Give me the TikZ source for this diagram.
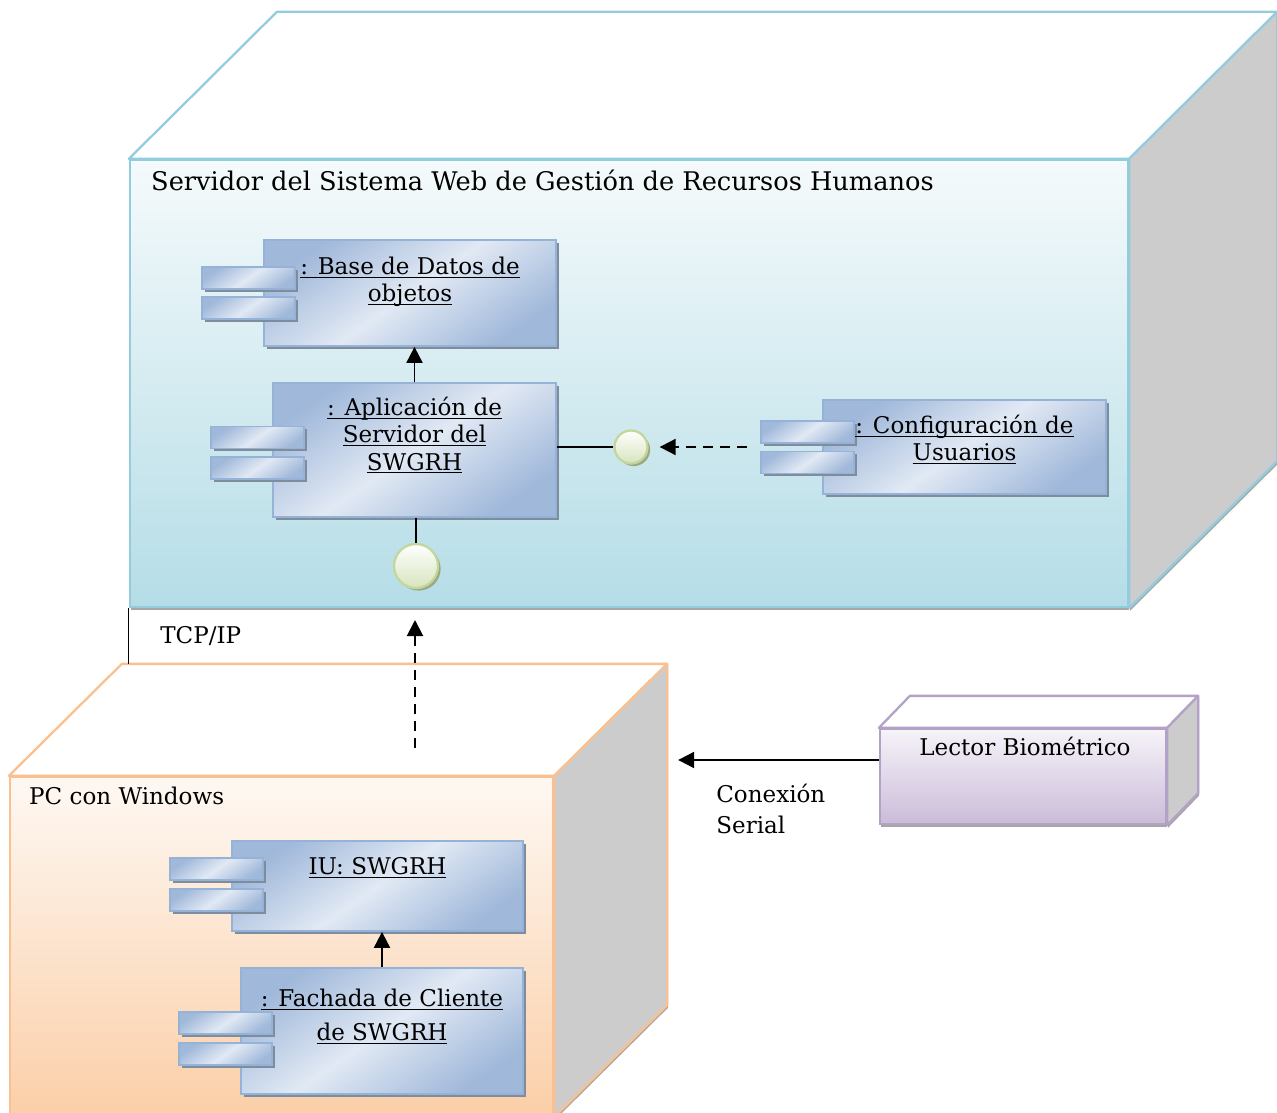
\documentclass[tikz,border=0pt]{standalone}
\usepackage{fontspec}
\setmainfont{DejaVu Serif}
\usetikzlibrary{arrows.meta,calc,positioning,shadows}

\definecolor{srvline}{HTML}{93CDDD}
\definecolor{srvtop}{HTML}{F5FAFB}
\definecolor{srvbot}{HTML}{B5DDE7}
\definecolor{pcline}{HTML}{FAC090}
\definecolor{pctop}{HTML}{FEF8F3}
\definecolor{pcbot}{HTML}{FBCFA8}
\definecolor{lecline}{HTML}{B3A2C7}
\definecolor{lectop}{HTML}{F6F3F9}
\definecolor{lecbot}{HTML}{CBBCD9}
\definecolor{sidegray}{HTML}{CCCCCC}
\definecolor{compline}{HTML}{95B3D7}
\definecolor{compdark}{HTML}{A0B8DA}
\definecolor{complight}{HTML}{E1E9F4}
\definecolor{compshadow}{HTML}{7F8C9E}
\definecolor{ifcline}{HTML}{C3D69B}
\definecolor{ifcbot}{HTML}{D7E4BD}
\definecolor{ifcshadow}{HTML}{9AAA80}

\newcommand{\deplfont}{\fontsize{13.1}{15.6}\selectfont}
\newcommand{\ulname}[1]{\underline{\smash{#1}}}

\tikzset{
    depl diagram/.style = {>={Triangle[length=3.2mm, width=3.2mm]}},
    line/.style     = {line width=1.1pt},
    dep/.style      = {line, dash pattern=on 2mm off 1.4mm},
    lbl/.style      = {font=\deplfont, inner sep=0pt},
    ulbl/.style     = {lbl, align=center, anchor=north},
    device/.style   = {line width=1.3pt, inner sep=0pt,
                       drop shadow={shadow xshift=0.5pt, shadow yshift=-1.5pt,
                                    fill=black, opacity=0.35}},
    srvbox/.style   = {device, draw=srvline, top color=srvtop, bottom color=srvbot},
    pcbox/.style    = {device, draw=pcline, top color=pctop, bottom color=pcbot},
    lecbox/.style   = {device, draw=lecline, top color=lectop, bottom color=lecbot},
    topface/.style  = {line width=1.3pt, fill=white, line join=round},
    sideface/.style = {line width=1.3pt, fill=sidegray, line join=round,
                       drop shadow={shadow xshift=0.5pt, shadow yshift=-1.5pt,
                                    fill=black, opacity=0.35}},
    comp/.style     = {draw=compline, line width=1pt, inner sep=0pt,
                       top color=compdark, bottom color=compdark,
                       middle color=complight, shading angle=35,
                       drop shadow={shadow xshift=1.6pt, shadow yshift=-1.6pt,
                                    fill=compshadow, opacity=1}},
    tab/.style      = {comp, minimum width=1.86cm, minimum height=0.44cm},
    lolly/.style    = {circle, draw=ifcline, line width=1.3pt, inner sep=0pt,
                       top color=white, bottom color=ifcbot,
                       drop shadow={shadow xshift=1.5pt, shadow yshift=-1.5pt,
                                    fill=ifcshadow, opacity=1}}
}

\begin{document}
\begin{tikzpicture}[depl diagram]
\useasboundingbox (0,0) rectangle (25.54,-22.26);

% ===== Nodes (front faces) =====
\node[srvbox, minimum width=19.96cm, minimum height=8.94cm] (srv) at (12.58,-7.67) {};
\node[pcbox, minimum width=10.86cm, minimum height=6.78cm] (pc) at (5.63,-18.93) {};
\node[lecbox, minimum width=5.72cm, minimum height=1.9cm] (lec) at (20.46,-15.53) {};

% ===== Depth faces =====
\foreach \n/\c/\dx/\dy in {srv/srvline/2.96/2.94, pc/pcline/2.26/2.24, lec/lecline/0.62/0.64} {
  \draw[topface, draw=\c] (\n.north west) -- ++(\dx,\dy)
    -- ($(\n.north east)+(\dx,\dy)$) -- (\n.north east) -- cycle;
  \draw[sideface, draw=\c] (\n.north east) -- ++(\dx,\dy)
    -- ($(\n.south east)+(\dx,\dy)$) -- (\n.south east) -- cycle;
}
\coordinate (pc-back-w) at ($(pc.north west)+(2.26,2.24)$);
\coordinate (pc-back-e) at ($(pc.north east)+(2.26,2.24)$);

% ===== Node titles =====
\node[lbl, anchor=base west, font=\fontsize{14.6}{17}\selectfont] (srv-title)
  at ([xshift=0.44cm, yshift=-0.64cm]srv.north west)
  {Servidor del Sistema Web de Gestión de Recursos Humanos};
\node[lbl, anchor=base west] (pc-title) at ([xshift=0.4cm, yshift=-0.58cm]pc.north west)
  {PC con Windows};
\node[lbl, anchor=base] (lec-title) at ([xshift=0.04cm, yshift=-0.56cm]lec.north)
  {Lector Biométrico};

% ===== Components =====
\node[comp, minimum width=5.84cm, minimum height=2.12cm] (bd)  at (8.2,-5.86)   {};
\node[comp, minimum width=5.66cm, minimum height=2.68cm] (app) at (8.29,-9.0)   {};
\node[comp, minimum width=5.66cm, minimum height=1.88cm] (cfg) at (19.29,-8.94) {};
\node[comp, minimum width=5.82cm, minimum height=1.8cm]  (ui)  at (7.55,-17.72) {};
\node[comp, minimum width=5.64cm, minimum height=2.52cm] (fac) at (7.64,-20.62) {};

\foreach \c/\ya/\yb in {bd/0.3/-0.3, app/0.25/-0.36, cfg/0.3/-0.31, ui/0.34/-0.28, fac/0.16/-0.46} {
  \node[tab] (\c-tab1) at ([xshift=-0.29cm, yshift=\ya cm]\c.west) {};
  \node[tab] (\c-tab2) at ([xshift=-0.29cm, yshift=\yb cm]\c.west) {};
}

\node[ulbl] (bd-lbl)  at ([yshift=-0.7cm]bd.north)   {\ulname{: Base de Datos de}\\\ulname{objetos}};
\node[ulbl] (app-lbl) at ([yshift=-0.66cm]app.north) {\ulname{: Aplicación de}\\\ulname{Servidor del}\\\ulname{SWGRH}};
\node[ulbl] (cfg-lbl) at ([yshift=-0.68cm]cfg.north) {\ulname{: Configuración de}\\\ulname{Usuarios}};
\node[ulbl] (ui-lbl)  at ([yshift=-0.68cm]ui.north)  {\ulname{IU: SWGRH}};
\node[ulbl] (fac-lbl) at ([yshift=-0.78cm]fac.north) {\ulname{: Fachada de Cliente}\\[4pt]\ulname{de SWGRH}};

% ===== Interfaces =====
\node[lolly, minimum size=0.66cm] (ifc-r) at (12.62,-8.94) {};
\node[lolly, minimum size=0.88cm] (ifc-b) at (8.32,-11.32) {};
\draw[line] (ifc-r) -- (ifc-r -| app.east);
\draw[line] (ifc-b.north) -- (ifc-b.north |- app.south);

% ===== Connectors =====
\draw[line, ->] (app.north) -- (app.north |- bd.south);
\draw[line, ->] (fac.north) -- (fac.north |- ui.south);
\draw[dep, ->] ([xshift=-1.5cm]cfg.west) -- ([xshift=0.22cm]ifc-r.east);

\coordinate (pc-dep)  at (8.3,-14.96);
\coordinate (srv-dep) at (8.3,-12.4);
\draw[dep, ->] (pc-dep) -- (srv-dep);

\draw[line width=0.7pt] (srv.south west) -- (srv.south west |- pc-back-w);
\node[lbl, anchor=base west] (tcp) at (3.2,-12.86) {TCP/IP};

\coordinate (lec-port) at ([yshift=0.33cm]lec.west);
\draw[line, ->] (lec-port) -- ([xshift=0.22cm]pc-back-e |- lec-port);
\node[lbl, anchor=north west, align=left, font=\fontsize{13.1}{17.6}\selectfont]
  (serial) at (14.32,-15.68) {Conexión\\Serial};

\end{tikzpicture}
\end{document}
